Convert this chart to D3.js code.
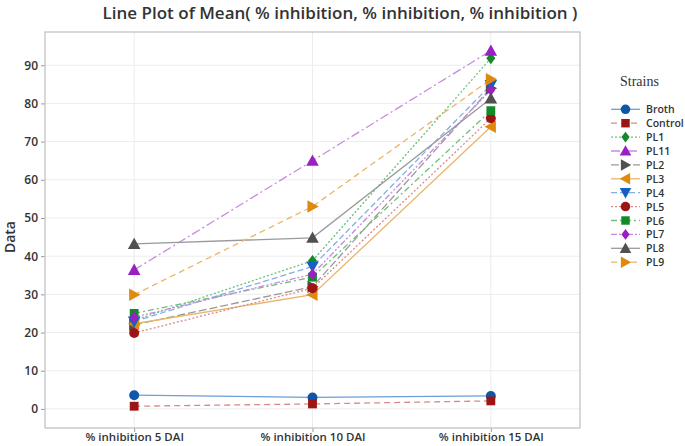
<!DOCTYPE html>
<html>
<head>
<meta charset="utf-8">
<script src="https://cdn.jsdelivr.net/npm/d3@7"></script>
<style>
  body { margin: 0; background: #fff; }
  text { font-family: "Open Sans", "Noto Sans", sans-serif; }
</style>
</head>
<body>
<div class="canvas"></div>
<script>
// categories on x
const days = ['% inhibition 5 DAI', '% inhibition 10 DAI', '% inhibition 15 DAI']
const yTicks = [0, 10, 20, 30, 40, 50, 60, 70, 80, 90]

// mean % inhibition for each strain (5, 10, 15 DAI)
const broth   = [3.6, 3.0, 3.4]
const control = [0.7, 1.3, 2.1]
const pl1  = [23.2, 38.8, 91.8]
const pl11 = [36.4, 65.0, 93.8]
const pl2  = [22.0, 32.0, 84.0]
const pl3  = [22.3, 29.9, 73.9]
const pl4  = [22.9, 37.3, 84.8]
const pl5  = [19.9, 31.6, 76.1]
const pl6  = [25.0, 34.5, 78.1]
const pl7  = [24.0, 35.3, 83.5]
const pl8  = [43.2, 44.8, 81.3]
const pl9  = [29.9, 53.0, 86.3]

const strains = ['Broth', 'Control', 'PL1', 'PL11', 'PL2', 'PL3', 'PL4', 'PL5', 'PL6', 'PL7', 'PL8', 'PL9']
const values = [broth, control, pl1, pl11, pl2, pl3, pl4, pl5, pl6, pl7, pl8, pl9]

// look of each series
const colors = ['#0d57ab', '#9c1414', '#138a2a', '#9a1fc4', '#505050', '#df8a0c',
                '#1460c4', '#9c1414', '#138a2a', '#9a1fc4', '#505050', '#df8a0c']
const lineColors = ['#6b9fd8', '#d88a8a', '#6fc07a', '#c98ae0', '#9a9a9a', '#eab56a',
                    '#7fb0e8', '#d88a8a', '#6fc07a', '#c98ae0', '#9a9a9a', '#eab56a']
const dashes = ['none', '6,4', '2,2', '9,3,2,3', '8,3', 'none',
                '6,3', '2,2', '6,3,2,3', '6,2,2,2,2,2', 'none', '6,4']
const symbols = ['circle', 'square', 'diamond', 'up', 'right', 'left',
                 'down', 'circle', 'square', 'diamond', 'up', 'right']

const W = 685, H = 446
const svg = d3.select('.canvas').append('svg')
    .attr('width', W)
    .attr('height', H)

const pLeft = 45, pRight = 580, pTop = 32, pBottom = 428

const x = d3.scalePoint()
    .domain(days)
    .range([pLeft, pRight])
    .padding(0.5)

const y = d3.scaleLinear()
    .domain([-5, 98.7])
    .range([pBottom, pTop])

// gridlines
svg.append('g')
  .selectAll('line')
  .data(yTicks)
  .join('line')
    .attr('x1', pLeft)
    .attr('x2', pRight)
    .attr('y1', d => y(d))
    .attr('y2', d => y(d))
    .attr('stroke', '#ececec')

svg.append('g')
  .selectAll('line')
  .data(days)
  .join('line')
    .attr('x1', d => x(d))
    .attr('x2', d => x(d))
    .attr('y1', pTop)
    .attr('y2', pBottom)
    .attr('stroke', '#ececec')

// axes
const yAxis = svg.append('g')
    .attr('transform', `translate(${pLeft},0)`)
    .call(d3.axisLeft(y).tickValues(yTicks).tickSize(4).tickPadding(3))
yAxis.select('.domain').remove()
yAxis.selectAll('line').attr('stroke', '#999')
yAxis.selectAll('text')
    .attr('fill', '#333')
    .style('font-size', '12px')
    .style('font-weight', '600')

const xAxis = svg.append('g')
    .attr('transform', `translate(0,${pBottom})`)
    .call(d3.axisBottom(x).tickSize(4).tickPadding(1))
xAxis.select('.domain').remove()
xAxis.selectAll('line').attr('stroke', '#999')
xAxis.selectAll('text')
    .attr('fill', '#333')
    .style('font-size', '11.5px')
    .style('font-weight', '600')

// frame
svg.append('rect')
    .attr('x', pLeft)
    .attr('y', pTop)
    .attr('width', pRight - pLeft)
    .attr('height', pBottom - pTop)
    .attr('fill', 'none')
    .attr('stroke', '#c4c4c4')
    .attr('stroke-width', 1.3)

const symbolPath = (kind, s) => {
  if (kind === 'circle') return d3.symbol(d3.symbolCircle, s * 13)()
  if (kind === 'square') return d3.symbol(d3.symbolSquare, s * 13)()
  if (kind === 'diamond') return `M0,${-s * 0.75 * 1.3}L${s * 0.75},0L0,${s * 0.75 * 1.3}L${-s * 0.75},0Z`
  const a = s * 1.05
  if (kind === 'up') return `M0,${-a}L${a},${a * 0.8}L${-a},${a * 0.8}Z`
  if (kind === 'down') return `M0,${a}L${a},${-a * 0.8}L${-a},${-a * 0.8}Z`
  if (kind === 'right') return `M${a},0L${-a * 0.8},${a}L${-a * 0.8},${-a}Z`
  return `M${-a},0L${a * 0.8},${a}L${a * 0.8},${-a}Z`
}

const line = d3.line()
    .x((d, i) => x(days[i]))
    .y(d => y(d))

// series lines
const plot = svg.append('g')
values.forEach((vals, k) => {
  plot.append('path')
      .attr('d', line(vals))
      .attr('fill', 'none')
      .attr('stroke', lineColors[k])
      .attr('stroke-width', 1.3)
      .attr('stroke-dasharray', dashes[k])
})
// markers on top
values.forEach((vals, k) => {
  plot.append('g')
    .selectAll('path')
    .data(vals)
    .join('path')
      .attr('transform', (d, i) => `translate(${x(days[i])},${y(d)})`)
      .attr('d', symbolPath(symbols[k], 6))
      .attr('fill', colors[k])
})

// title and axis label
svg.append('text')
    .attr('x', 340)
    .attr('y', 19)
    .attr('text-anchor', 'middle')
    .attr('fill', '#333')
    .style('font-size', '17px')
    .style('font-weight', '600')
    .text('Line Plot of Mean( % inhibition, % inhibition, % inhibition )')

svg.append('text')
    .attr('transform', `translate(15,${y(45)}) rotate(-90)`)
    .attr('text-anchor', 'middle')
    .attr('fill', '#333')
    .style('font-size', '14px')
    .style('font-weight', '600')
    .text('Data')

// legend
const legend = svg.append('g')
legend.append('text')
    .attr('x', 620)
    .attr('y', 86)
    .attr('fill', '#333')
    .style('font-family', '"Liberation Serif", "DejaVu Serif", serif')
    .style('font-size', '14px')
    .text('Strains')

strains.forEach((name, k) => {
  const ly = 109.3 + k * 13.9
  legend.append('line')
      .attr('x1', 611)
      .attr('x2', 640)
      .attr('y1', ly)
      .attr('y2', ly)
      .attr('stroke', lineColors[k])
      .attr('stroke-width', 1.3)
      .attr('stroke-dasharray', dashes[k])
  legend.append('path')
      .attr('transform', `translate(625.5,${ly})`)
      .attr('d', symbolPath(symbols[k], 5.5))
      .attr('fill', colors[k])
  legend.append('text')
      .attr('x', 646)
      .attr('y', ly + 4)
      .attr('fill', '#333')
      .style('font-size', '10.5px')
      .style('font-weight', '600')
      .text(name)
})
</script>
</body>
</html>
